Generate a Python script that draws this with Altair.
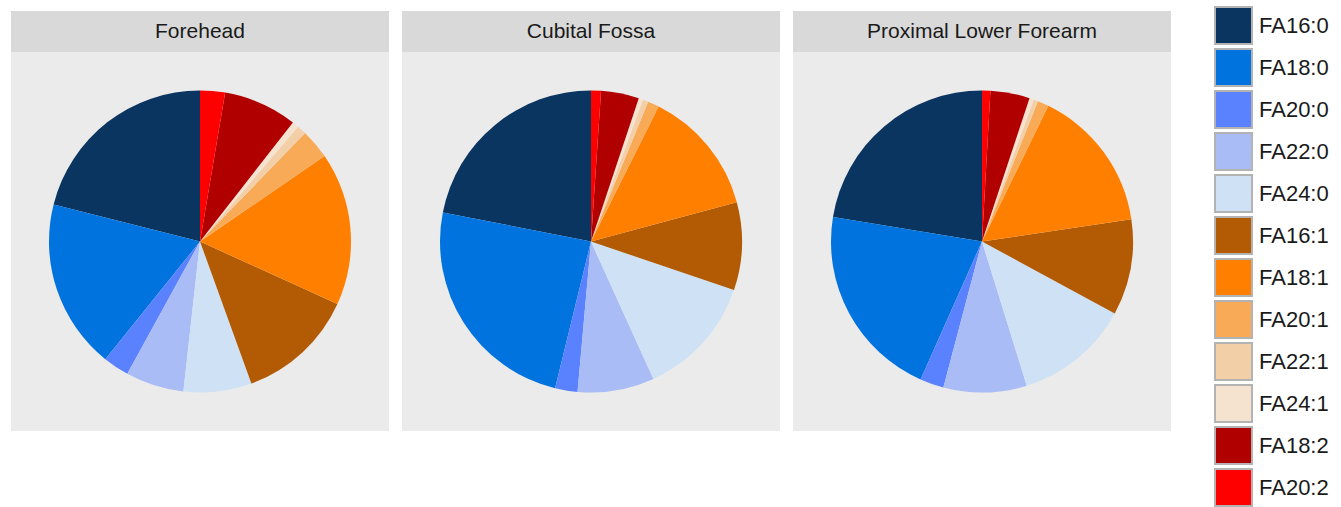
import altair as alt
import pandas as pd

sites = ["Forehead", "Cubital Fossa", "Proximal Lower Forearm"]
categories = ["FA16:0", "FA18:0", "FA20:0", "FA22:0", "FA24:0",
              "FA16:1", "FA18:1", "FA20:1", "FA22:1", "FA24:1",
              "FA18:2", "FA20:2"]
colors = ["#0A3560", "#0073DE", "#5A82FF", "#A9BCF5", "#CFE2F5",
          "#B25A04", "#FF8000", "#F8AA57", "#F3CFA8", "#F5E3CF",
          "#B00000", "#FF0000"]

forehead = [21.1, 18.2, 2.8, 6.25, 7.3, 12.7, 16.4, 3.2, 1.0, 0.7, 7.9, 2.67]
cubital = [21.9, 24.25, 2.4, 8.2, 13.0, 9.4, 13.4, 1.22, 0.58, 0.47, 4.06, 1.06]
proximal = [22.4, 20.9, 2.55, 8.9, 12.3, 10.25, 15.4, 1.2, 0.47, 0.47, 4.2, 0.89]

values = {"Forehead": forehead, "Cubital Fossa": cubital,
          "Proximal Lower Forearm": proximal}

rows = []
for s in sites:
    for i, (c, v) in enumerate(zip(categories, values[s])):
        rows.append({"site": s, "category": c, "value": v,
                     "ord": len(categories) - 1 - i})
df = pd.DataFrame(rows)

FONT = "Liberation Sans"

color_enc = alt.Color(
    "category:N",
    scale=alt.Scale(domain=categories, range=colors),
    sort=categories,
    legend=alt.Legend(
        title=None, orient="none", legendX=1203, legendY=-5,
        symbolType="square", symbolSize=1369,
        symbolStrokeColor="#B3B3B3", symbolStrokeWidth=2,
        symbolOpacity=1, labelFontSize=22, labelFont=FONT,
        labelColor="#1A1A1A", labelOffset=6, rowPadding=-3,
        labelLimit=200,
    ),
)

panels = []
for s in sites:
    header = alt.Chart(pd.DataFrame({"site": [s]})).mark_text(
        fontSize=21, font=FONT, color="#1A1A1A"
    ).encode(text="site:N").properties(
        width=378, height=41,
        view=alt.ViewBackground(fill="#D9D9D9", strokeWidth=0),
    )
    pie = alt.Chart(df).transform_filter(
        alt.datum.site == s
    ).mark_arc(radius=151, strokeWidth=0).encode(
        theta=alt.Theta("value:Q", stack=True),
        color=color_enc,
        order=alt.Order("ord:Q", sort="ascending"),
    ).properties(
        width=378, height=379,
        view=alt.ViewBackground(fill="#EBEBEB", strokeWidth=0),
    )
    panels.append(alt.vconcat(header, pie, spacing=0))

chart = alt.hconcat(*panels, spacing=13).properties(
    padding={"left": 11, "top": 6, "right": 5, "bottom": 5},
    background="white",
).configure_view(strokeWidth=0)

chart.save("out.html", embed_options={"renderer": "svg", "actions": False})
